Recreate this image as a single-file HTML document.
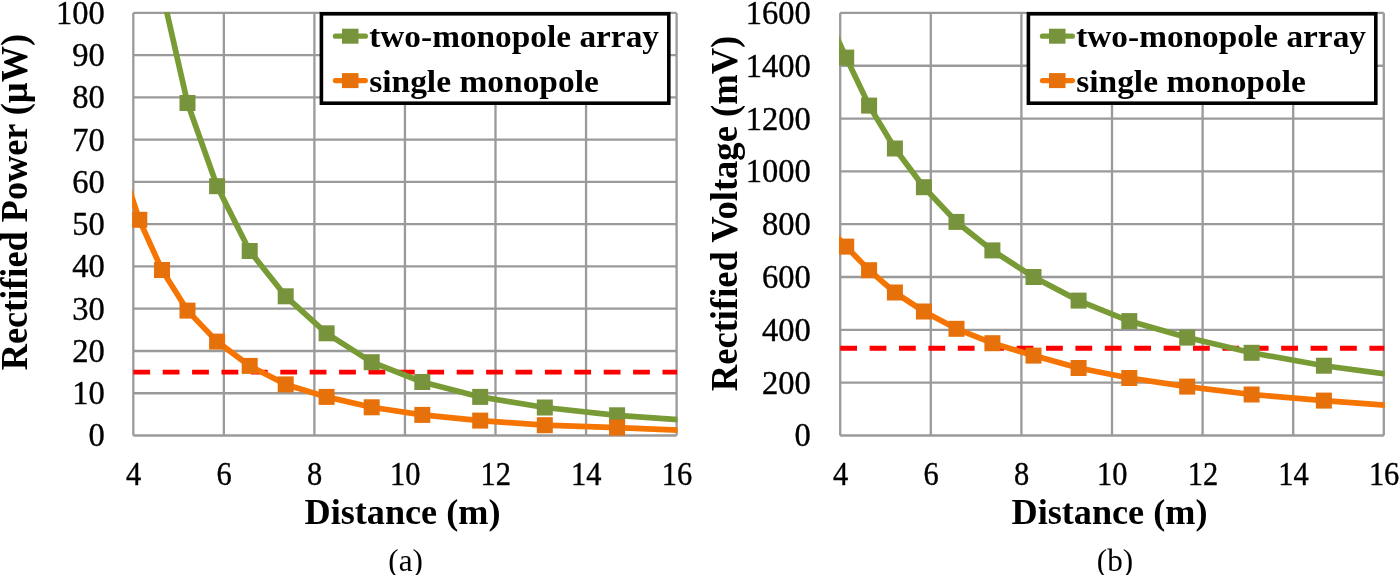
<!DOCTYPE html>
<html lang="en">
<head>
<meta charset="utf-8">
<title>Rectified power and voltage versus distance</title>
<style>
html,body{margin:0;padding:0;background:#fff;}
body{width:1400px;height:575px;overflow:hidden;}
svg{display:block;filter:blur(0.4px);}
text{font-kerning:normal;}
</style>
</head>
<body>
<svg width="1400" height="575" viewBox="0 0 1400 575">
<rect x="0" y="0" width="1400" height="575" fill="#ffffff"/>
<!-- (a) Rectified Power -->
<g stroke="#9a9a9a" stroke-width="2.3" fill="none"><line x1="133.30" y1="12.90" x2="676.60" y2="12.90"/><line x1="133.30" y1="55.16" x2="676.60" y2="55.16"/><line x1="133.30" y1="97.42" x2="676.60" y2="97.42"/><line x1="133.30" y1="139.68" x2="676.60" y2="139.68"/><line x1="133.30" y1="181.94" x2="676.60" y2="181.94"/><line x1="133.30" y1="224.20" x2="676.60" y2="224.20"/><line x1="133.30" y1="266.46" x2="676.60" y2="266.46"/><line x1="133.30" y1="308.72" x2="676.60" y2="308.72"/><line x1="133.30" y1="350.98" x2="676.60" y2="350.98"/><line x1="133.30" y1="393.24" x2="676.60" y2="393.24"/><line x1="133.30" y1="435.50" x2="676.60" y2="435.50"/><line x1="133.30" y1="12.90" x2="133.30" y2="435.50"/><line x1="223.85" y1="12.90" x2="223.85" y2="435.50"/><line x1="314.40" y1="12.90" x2="314.40" y2="435.50"/><line x1="404.95" y1="12.90" x2="404.95" y2="435.50"/><line x1="495.50" y1="12.90" x2="495.50" y2="435.50"/><line x1="586.05" y1="12.90" x2="586.05" y2="435.50"/><line x1="676.60" y1="12.90" x2="676.60" y2="435.50"/></g>
<clipPath id="c1"><rect x="132.10" y="12.10" width="545.50" height="424.20"/></clipPath>
<g font-family="'Liberation Serif', 'Times New Roman', serif" font-size="34.4" text-anchor="end" fill="#000" stroke="#000" stroke-width="0.4"><text transform="translate(104.8 23.8) scale(0.945 1)">100</text><text transform="translate(104.8 66.1) scale(0.945 1)">90</text><text transform="translate(104.8 108.3) scale(0.945 1)">80</text><text transform="translate(104.8 150.6) scale(0.945 1)">70</text><text transform="translate(104.8 192.8) scale(0.945 1)">60</text><text transform="translate(104.8 235.1) scale(0.945 1)">50</text><text transform="translate(104.8 277.4) scale(0.945 1)">40</text><text transform="translate(104.8 319.6) scale(0.945 1)">30</text><text transform="translate(104.8 361.9) scale(0.945 1)">20</text><text transform="translate(104.8 404.1) scale(0.945 1)">10</text><text transform="translate(104.8 446.4) scale(0.945 1)">0</text></g>
<g font-family="'Liberation Serif', 'Times New Roman', serif" font-size="33.8" text-anchor="middle" fill="#000" stroke="#000" stroke-width="0.4"><text transform="translate(133.6 485.0) scale(0.90 1)">4</text><text transform="translate(224.2 485.0) scale(0.90 1)">6</text><text transform="translate(314.7 485.0) scale(0.90 1)">8</text><text transform="translate(405.2 485.0) scale(0.90 1)">10</text><text transform="translate(495.8 485.0) scale(0.90 1)">12</text><text transform="translate(586.3 485.0) scale(0.90 1)">14</text><text transform="translate(676.9 485.0) scale(0.90 1)">16</text></g>
<line x1="133.30" y1="372.1" x2="677.10" y2="372.1" stroke="#ff0000" stroke-width="4.9" stroke-dasharray="16.8 12.6"/>
<polyline clip-path="url(#c1)" fill="none" stroke="#799b36" stroke-width="5.7" stroke-linejoin="round" points="162.0,-9.0 187.5,103.0 217.1,186.2 249.7,251.0 285.7,296.3 326.6,333.3 371.7,362.2 422.3,382.0 480.2,396.9 544.8,407.5 617.1,415.3 700.0,421.3"/>
<g clip-path="url(#c1)" fill="#77933c"><rect x="179.5" y="95.0" width="16" height="16"/><rect x="209.1" y="178.2" width="16" height="16"/><rect x="241.7" y="243.0" width="16" height="16"/><rect x="277.7" y="288.3" width="16" height="16"/><rect x="318.6" y="325.3" width="16" height="16"/><rect x="363.7" y="354.2" width="16" height="16"/><rect x="414.3" y="374.0" width="16" height="16"/><rect x="472.2" y="388.9" width="16" height="16"/><rect x="536.8" y="399.5" width="16" height="16"/><rect x="609.1" y="407.3" width="16" height="16"/></g>
<polyline clip-path="url(#c1)" fill="none" stroke="#f67502" stroke-width="5.7" stroke-linejoin="round" points="119.0,157.7 139.3,219.8 162.0,270.0 187.5,310.6 217.1,341.6 249.7,365.9 285.7,384.4 326.6,396.9 371.7,407.3 422.3,414.9 480.2,420.6 544.8,425.2 617.1,427.6 700.0,430.9"/>
<g clip-path="url(#c1)" fill="#e6700a"><rect x="131.3" y="211.8" width="16" height="16"/><rect x="154.0" y="262.0" width="16" height="16"/><rect x="179.5" y="302.6" width="16" height="16"/><rect x="209.1" y="333.6" width="16" height="16"/><rect x="241.7" y="357.9" width="16" height="16"/><rect x="277.7" y="376.4" width="16" height="16"/><rect x="318.6" y="388.9" width="16" height="16"/><rect x="363.7" y="399.3" width="16" height="16"/><rect x="414.3" y="406.9" width="16" height="16"/><rect x="472.2" y="412.6" width="16" height="16"/><rect x="536.8" y="417.2" width="16" height="16"/><rect x="609.1" y="419.6" width="16" height="16"/></g>
<text x="402.5" y="524.0" font-family="'Liberation Serif', 'Times New Roman', serif" font-size="35.3" font-weight="bold" text-anchor="middle" textLength="196.0" lengthAdjust="spacingAndGlyphs">Distance (m)</text>
<text x="405.6" y="570.8" font-family="'Liberation Serif', 'Times New Roman', serif" font-size="31.2" text-anchor="middle">(a)</text>
<text transform="translate(27.3 202.1) rotate(-90)" font-family="'Liberation Serif', 'Times New Roman', serif" font-size="37.3" font-weight="bold" text-anchor="middle" textLength="336.4" lengthAdjust="spacingAndGlyphs">Rectified Power (µW)</text>
<rect x="321.40" y="13.80" width="347.40" height="89.40" fill="#fff" stroke="#000" stroke-width="3.6"/>
<line x1="335.5" y1="36.2" x2="365.3" y2="36.2" stroke="#799b36" stroke-width="5.3" stroke-linecap="round"/><rect x="342.0" y="28.7" width="16.5" height="15" fill="#77933c"/><text x="369.2" y="46.9" font-family="'Liberation Serif', 'Times New Roman', serif" font-size="31.9" font-weight="bold" textLength="289.8" lengthAdjust="spacingAndGlyphs">two-monopole array</text>
<line x1="335.5" y1="80.6" x2="365.3" y2="80.6" stroke="#f67502" stroke-width="5.3" stroke-linecap="round"/><rect x="342.0" y="73.1" width="16.5" height="15" fill="#e6700a"/><text x="369.2" y="91.7" font-family="'Liberation Serif', 'Times New Roman', serif" font-size="31.9" font-weight="bold" textLength="229.7" lengthAdjust="spacingAndGlyphs">single monopole</text>
<!-- (b) Rectified Voltage -->
<g stroke="#9a9a9a" stroke-width="2.3" fill="none"><line x1="840.20" y1="12.90" x2="1383.80" y2="12.90"/><line x1="840.20" y1="65.73" x2="1383.80" y2="65.73"/><line x1="840.20" y1="118.55" x2="1383.80" y2="118.55"/><line x1="840.20" y1="171.38" x2="1383.80" y2="171.38"/><line x1="840.20" y1="224.20" x2="1383.80" y2="224.20"/><line x1="840.20" y1="277.02" x2="1383.80" y2="277.02"/><line x1="840.20" y1="329.85" x2="1383.80" y2="329.85"/><line x1="840.20" y1="382.68" x2="1383.80" y2="382.68"/><line x1="840.20" y1="435.50" x2="1383.80" y2="435.50"/><line x1="840.20" y1="12.90" x2="840.20" y2="435.50"/><line x1="930.80" y1="12.90" x2="930.80" y2="435.50"/><line x1="1021.40" y1="12.90" x2="1021.40" y2="435.50"/><line x1="1112.00" y1="12.90" x2="1112.00" y2="435.50"/><line x1="1202.60" y1="12.90" x2="1202.60" y2="435.50"/><line x1="1293.20" y1="12.90" x2="1293.20" y2="435.50"/><line x1="1383.80" y1="12.90" x2="1383.80" y2="435.50"/></g>
<clipPath id="c2"><rect x="839.00" y="12.10" width="545.80" height="424.20"/></clipPath>
<g font-family="'Liberation Serif', 'Times New Roman', serif" font-size="34.4" text-anchor="end" fill="#000" stroke="#000" stroke-width="0.4"><text transform="translate(810.7 23.8) scale(0.945 1)">1600</text><text transform="translate(810.7 76.6) scale(0.945 1)">1400</text><text transform="translate(810.7 129.5) scale(0.945 1)">1200</text><text transform="translate(810.7 182.3) scale(0.945 1)">1000</text><text transform="translate(810.7 235.1) scale(0.945 1)">800</text><text transform="translate(810.7 287.9) scale(0.945 1)">600</text><text transform="translate(810.7 340.8) scale(0.945 1)">400</text><text transform="translate(810.7 393.6) scale(0.945 1)">200</text><text transform="translate(810.7 446.4) scale(0.945 1)">0</text></g>
<g font-family="'Liberation Serif', 'Times New Roman', serif" font-size="33.8" text-anchor="middle" fill="#000" stroke="#000" stroke-width="0.4"><text transform="translate(840.5 485.0) scale(0.90 1)">4</text><text transform="translate(931.1 485.0) scale(0.90 1)">6</text><text transform="translate(1021.7 485.0) scale(0.90 1)">8</text><text transform="translate(1112.3 485.0) scale(0.90 1)">10</text><text transform="translate(1202.9 485.0) scale(0.90 1)">12</text><text transform="translate(1293.5 485.0) scale(0.90 1)">14</text><text transform="translate(1384.1 485.0) scale(0.90 1)">16</text></g>
<line x1="840.20" y1="348.3" x2="1384.30" y2="348.3" stroke="#ff0000" stroke-width="4.9" stroke-dasharray="16.8 12.6"/>
<polyline clip-path="url(#c2)" fill="none" stroke="#799b36" stroke-width="5.7" stroke-linejoin="round" points="825.9,13.8 846.2,57.6 869.1,105.6 894.9,148.5 923.9,187.2 956.5,221.9 992.4,250.4 1033.5,277.0 1078.6,300.6 1129.3,321.1 1187.2,337.6 1251.6,352.8 1323.9,365.7 1400.0,376.0"/>
<g clip-path="url(#c2)" fill="#77933c"><rect x="838.2" y="49.6" width="16" height="16"/><rect x="861.1" y="97.6" width="16" height="16"/><rect x="886.9" y="140.5" width="16" height="16"/><rect x="915.9" y="179.2" width="16" height="16"/><rect x="948.5" y="213.9" width="16" height="16"/><rect x="984.4" y="242.4" width="16" height="16"/><rect x="1025.5" y="269.0" width="16" height="16"/><rect x="1070.6" y="292.6" width="16" height="16"/><rect x="1121.3" y="313.1" width="16" height="16"/><rect x="1179.2" y="329.6" width="16" height="16"/><rect x="1243.6" y="344.8" width="16" height="16"/><rect x="1315.9" y="357.7" width="16" height="16"/></g>
<polyline clip-path="url(#c2)" fill="none" stroke="#f67502" stroke-width="5.7" stroke-linejoin="round" points="825.9,225.2 846.2,246.6 869.1,270.2 894.9,292.5 923.9,311.5 956.5,328.8 992.4,343.2 1033.5,355.6 1078.6,368.0 1129.3,378.0 1187.2,386.6 1251.6,394.5 1323.9,400.6 1400.0,406.2"/>
<g clip-path="url(#c2)" fill="#e6700a"><rect x="838.2" y="238.6" width="16" height="16"/><rect x="861.1" y="262.2" width="16" height="16"/><rect x="886.9" y="284.5" width="16" height="16"/><rect x="915.9" y="303.5" width="16" height="16"/><rect x="948.5" y="320.8" width="16" height="16"/><rect x="984.4" y="335.2" width="16" height="16"/><rect x="1025.5" y="347.6" width="16" height="16"/><rect x="1070.6" y="360.0" width="16" height="16"/><rect x="1121.3" y="370.0" width="16" height="16"/><rect x="1179.2" y="378.6" width="16" height="16"/><rect x="1243.6" y="386.5" width="16" height="16"/><rect x="1315.9" y="392.6" width="16" height="16"/></g>
<text x="1109.5" y="524.0" font-family="'Liberation Serif', 'Times New Roman', serif" font-size="35.3" font-weight="bold" text-anchor="middle" textLength="196.0" lengthAdjust="spacingAndGlyphs">Distance (m)</text>
<text x="1115.0" y="570.8" font-family="'Liberation Serif', 'Times New Roman', serif" font-size="31.2" text-anchor="middle">(b)</text>
<text transform="translate(736.5 213.5) rotate(-90)" font-family="'Liberation Serif', 'Times New Roman', serif" font-size="37.3" font-weight="bold" text-anchor="middle" textLength="355.5" lengthAdjust="spacingAndGlyphs">Rectified Voltage (mV)</text>
<rect x="1028.40" y="13.80" width="347.40" height="89.40" fill="#fff" stroke="#000" stroke-width="3.6"/>
<line x1="1042.5" y1="36.2" x2="1072.3" y2="36.2" stroke="#799b36" stroke-width="5.3" stroke-linecap="round"/><rect x="1049.0" y="28.7" width="16.5" height="15" fill="#77933c"/><text x="1076.2" y="46.9" font-family="'Liberation Serif', 'Times New Roman', serif" font-size="31.9" font-weight="bold" textLength="289.8" lengthAdjust="spacingAndGlyphs">two-monopole array</text>
<line x1="1042.5" y1="80.6" x2="1072.3" y2="80.6" stroke="#f67502" stroke-width="5.3" stroke-linecap="round"/><rect x="1049.0" y="73.1" width="16.5" height="15" fill="#e6700a"/><text x="1076.2" y="91.7" font-family="'Liberation Serif', 'Times New Roman', serif" font-size="31.9" font-weight="bold" textLength="229.7" lengthAdjust="spacingAndGlyphs">single monopole</text>
</svg>
</body>
</html>
